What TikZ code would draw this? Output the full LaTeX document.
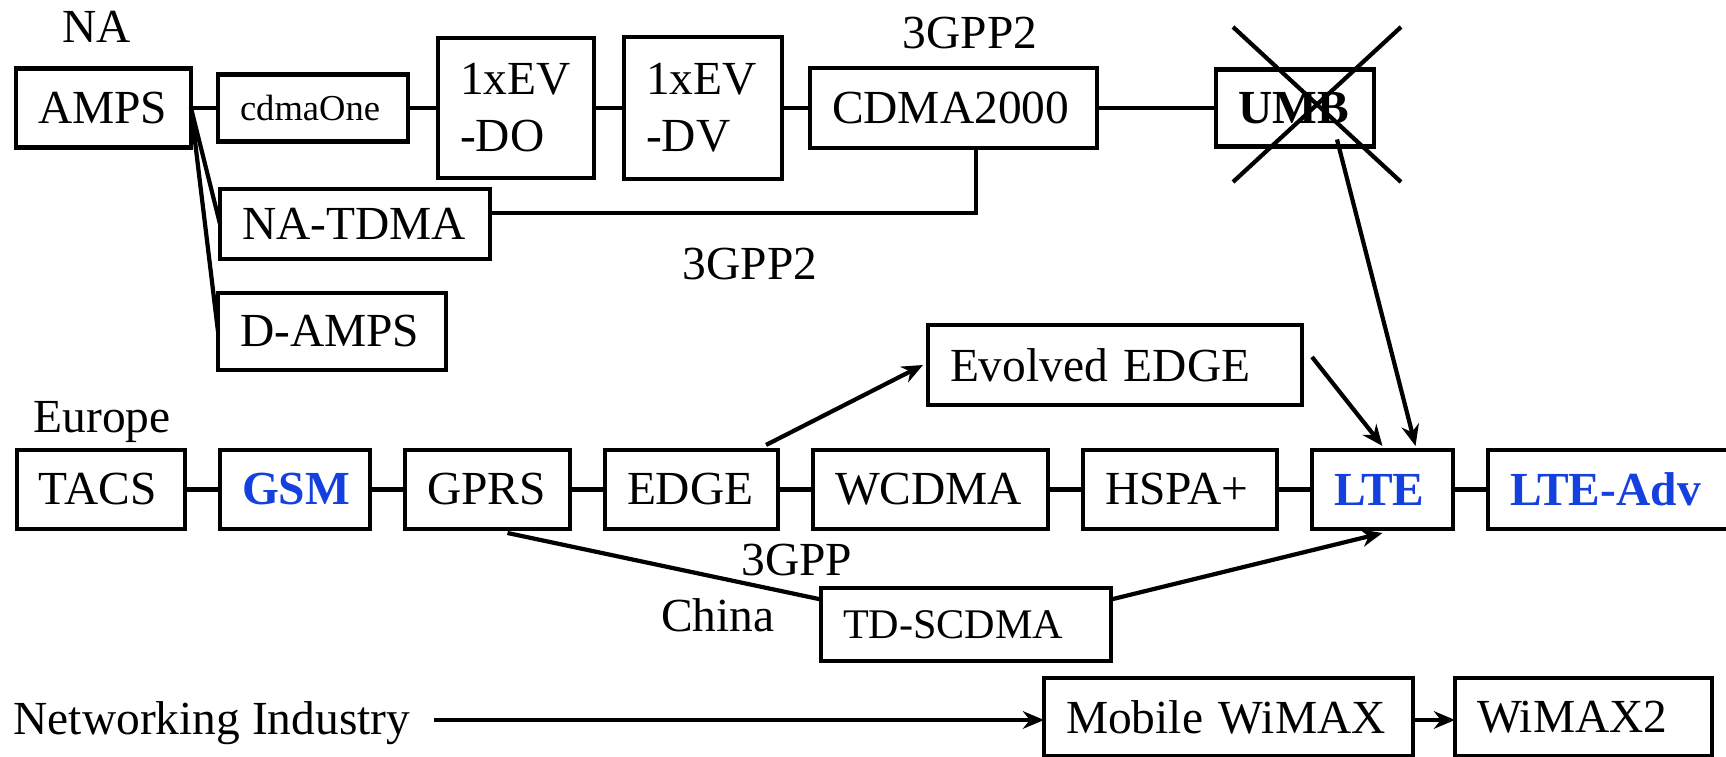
\documentclass[tikz,border=0pt]{standalone}
\usepackage{fontspec}
\setmainfont{Liberation Serif}
\usetikzlibrary{positioning,arrows.meta}
\definecolor{ltblue}{RGB}{20,64,224}
\tikzstyle{box} = [draw, line width=1.2pt, inner ysep=0pt, inner xsep=0.22cm, outer sep=0pt, align=left, minimum height=0.79cm, font=\fontsize{13.5}{16.2}\selectfont]
\tikzstyle{tag} = [inner sep=0pt, font=\fontsize{13.5}{16.2}\selectfont]
\tikzstyle{link} = [line width=1.2pt]
\tikzstyle{arrow} = [line width=1.2pt,->,>={Stealth[length=6pt,width=5pt]}]

\begin{document}
\begin{tikzpicture}
    \useasboundingbox (0,0) rectangle (17.26,7.57);
    \clip (0,0) rectangle (17.26,7.57);

    % North America
    \node (na) [tag] at (0.97,7.30) {NA};
    \node (amps) [box, text width=1.31cm] at (1.035,6.49) {AMPS};
    \node (cdmaone) [box, text width=1.46cm, minimum height=0.67cm, font=\fontsize{10.4}{12}\selectfont, right=0.27cm of amps] {cdmaOne};
    \node (evdo) [box, text width=1.12cm, minimum height=1.40cm, right=0.30cm of cdmaone] {1xEV\\-DO};
    \node (evdv) [box, text width=1.14cm, minimum height=1.42cm, right=0.30cm of evdo] {1xEV\\-DV};
    \node (cdma2000) [box, text width=2.43cm, minimum height=0.80cm, right=0.28cm of evdv] {CDMA2000};
    \node (umb) [box, text width=1.14cm, minimum height=0.77cm, right=1.19cm of cdma2000] {\textbf{UMB}};
    \node (gppa) [tag] at (9.70,7.24) {3GPP2};

    \draw [link] (amps) -- (cdmaone);
    \draw [link] (cdmaone) -- (evdo);
    \draw [link] (evdo) -- (evdv);
    \draw [link] (evdv) -- (cdma2000);
    \draw [link] (cdma2000) -- (umb);
    % UMB is crossed out
    \draw [link] (12.33,7.30) -- (14.01,5.75);
    \draw [link] (14.01,7.30) -- (12.33,5.75);

    \node (natdma) [box, text width=2.26cm, minimum height=0.70cm] at (3.55,5.33) {NA-TDMA};
    \node (damps) [box, text width=1.84cm, minimum height=0.77cm] at (3.32,4.255) {D-AMPS};
    \draw [link] (amps.east) -- (natdma.west);
    \draw [link] (amps.east) -- (damps.west);
    \draw [link] ([yshift=0.11cm]natdma.east) -| ([xshift=0.225cm]cdma2000.south);
    \node (gppb) [tag] at (7.50,4.93) {3GPP2};

    % Europe
    \node (europe) [tag] at (1.02,3.35) {Europe};
    \node (tacs) [box, text width=1.24cm] at (1.01,2.675) {TACS};
    \node (gsm) [box, text width=1.06cm, text=ltblue, right=0.35cm of tacs] {\textbf{GSM}};
    \node (gprs) [box, text width=1.21cm, right=0.35cm of gsm] {GPRS};
    \node (edgebase) [box, text width=1.29cm, right=0.35cm of gprs] {EDGE};
    \node (wcdma) [box, text width=1.91cm, right=0.35cm of edgebase] {WCDMA};
    \node (hspa) [box, text width=1.50cm, right=0.35cm of wcdma] {HSPA+};
    \node (lte) [box, text width=0.97cm, text=ltblue, right=0.35cm of hspa] {\textbf{LTE}};
    \node (lteadv) [box, text width=2.2cm, text=ltblue, right=0.35cm of lte] {\textbf{LTE-Adv}};

    \draw [link] (tacs) -- (gsm);
    \draw [link] (gsm) -- (gprs);
    \draw [link] (gprs) -- (edgebase);
    \draw [link] (edgebase) -- (wcdma);
    \draw [link] (wcdma) -- (hspa);
    \draw [link] (hspa) -- (lte);
    \draw [link] (lte) -- (lteadv);

    \node (evolved) [box, text width=3.30cm, minimum height=0.80cm] at (11.15,3.92) {Evolved EDGE};
    \draw [arrow] ([xshift=-0.12cm,yshift=0.05cm]edgebase.north east) -- ([xshift=-0.05cm]evolved.west);
    \draw [arrow] ([xshift=0.10cm,yshift=0.08cm]evolved.east) -- ([yshift=0.04cm]lte.north);
    \draw [arrow] ([xshift=0.42cm,yshift=0.07cm]umb.south) -- ([xshift=0.33cm,yshift=0.04cm]lte.north);

    % China
    \node (gpp) [tag] at (7.97,1.97) {3GPP};
    \node (china) [tag] at (7.18,1.42) {China};
    \node (tdscdma) [box, text width=2.46cm, minimum height=0.73cm, font=\fontsize{12}{14}\selectfont] at (9.66,1.325) {TD-SCDMA};
    \draw [link] ([xshift=0.20cm,yshift=-0.04cm]gprs.south) -- ([yshift=0.25cm]tdscdma.west);
    \draw [arrow] ([yshift=0.25cm]tdscdma.east) -- ([yshift=-0.04cm]lte.south);

    % networking industry
    \node (netind) [tag] at (2.12,0.34) {Networking Industry};
    \node (mobile) [box, text width=3.25cm, minimum height=0.78cm] at (12.285,0.40) {Mobile WiMAX};
    \node (wimax2) [box, text width=2.13cm, minimum height=0.78cm, right=0.42cm of mobile] {WiMAX2};
    \draw [arrow] ([xshift=0.23cm,yshift=0.03cm]netind.east) -- ([yshift=-0.03cm]mobile.west);
    \draw [arrow] ([yshift=-0.03cm]mobile.east) -- ([yshift=-0.03cm]wimax2.west);

\end{tikzpicture}
\end{document}
